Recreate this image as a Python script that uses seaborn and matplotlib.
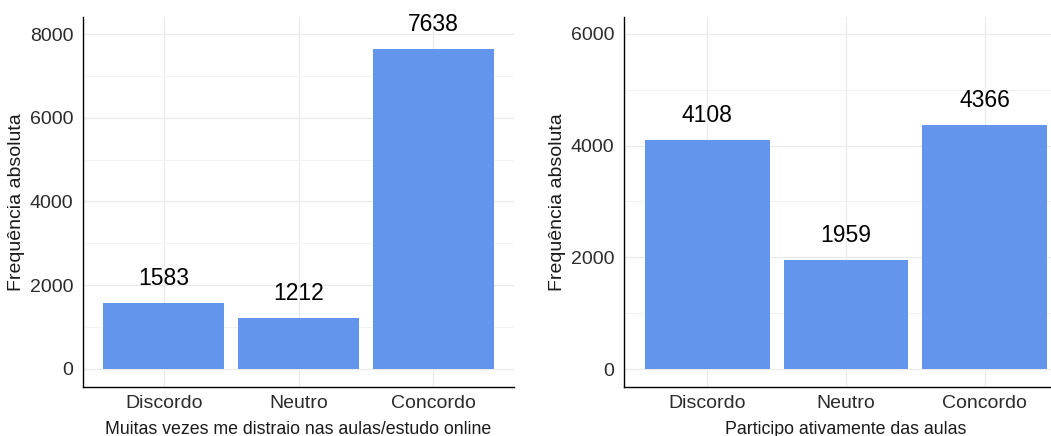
import matplotlib
matplotlib.use("Agg")
import matplotlib.pyplot as plt
import seaborn as sns
import pandas as pd
from matplotlib.ticker import MultipleLocator

# dados
categorias = ["Discordo", "Neutro", "Concordo"]
distraio = [1583, 1212, 7638]
participo = [4108, 1959, 4366]
rotulo_x1 = "Muitas vezes me distraio nas aulas/estudo online"
rotulo_x2 = "Participo ativamente das aulas"
rotulo_y = "Frequência absoluta"

sns.set_theme(style="white")
plt.rcParams["font.family"] = ["Liberation Sans", "DejaVu Sans"]

cor_barra = "#6495ED"

fig = plt.figure(figsize=(10.51, 4.36), dpi=100)
ax1 = fig.add_axes([83 / 1051, 1 - 387 / 436, (514 - 83) / 1051, (387 - 17) / 436])
ax2 = fig.add_axes([624 / 1051, 1 - 387 / 436, (1068 - 624) / 1051, (387 - 17) / 436])


def painel(ax, valores, rotulo_x, ylim, yticks):
    df = pd.DataFrame({"cat": categorias, "n": valores})
    sns.barplot(data=df, x="cat", y="n", color=cor_barra, saturation=1,
                width=0.9, linewidth=0, ax=ax)
    for x, v in enumerate(valores):
        ax.annotate(str(v), (x, v), xytext=(0, 17.5), textcoords="offset points",
                    ha="center", va="center", fontsize=16.5, color="black")
    ax.set_xlim(-0.6, 2.6)
    ax.set_ylim(*ylim)
    ax.set_yticks(yticks)
    ax.yaxis.set_minor_locator(MultipleLocator(1000))
    ax.set_axisbelow(True)
    ax.grid(which="major", color="#EBEBEB", lw=0.9)
    ax.grid(which="minor", axis="y", color="#F0F0F0", lw=0.6)
    for s in ["top", "right"]:
        ax.spines[s].set_visible(False)
    for s in ["left", "bottom"]:
        ax.spines[s].set_color("black")
        ax.spines[s].set_linewidth(1.0)
    ax.tick_params(axis="both", length=0, labelsize=14, labelcolor="#2b2b2b")
    ax.tick_params(axis="y", pad=7)
    ax.tick_params(axis="x", pad=6)
    ax.tick_params(which="minor", length=0)
    ax.set_xlabel(rotulo_x, fontsize=12.8, color="#1a1a1a", labelpad=6)
    ax.set_ylabel(rotulo_y, fontsize=14, color="#1a1a1a", labelpad=3)


painel(ax1, distraio, rotulo_x1, (-430, 8406), [0, 2000, 4000, 6000, 8000])
painel(ax2, participo, rotulo_x2, (-322, 6304), [0, 2000, 4000, 6000])

fig.savefig("out.png", dpi=100)
